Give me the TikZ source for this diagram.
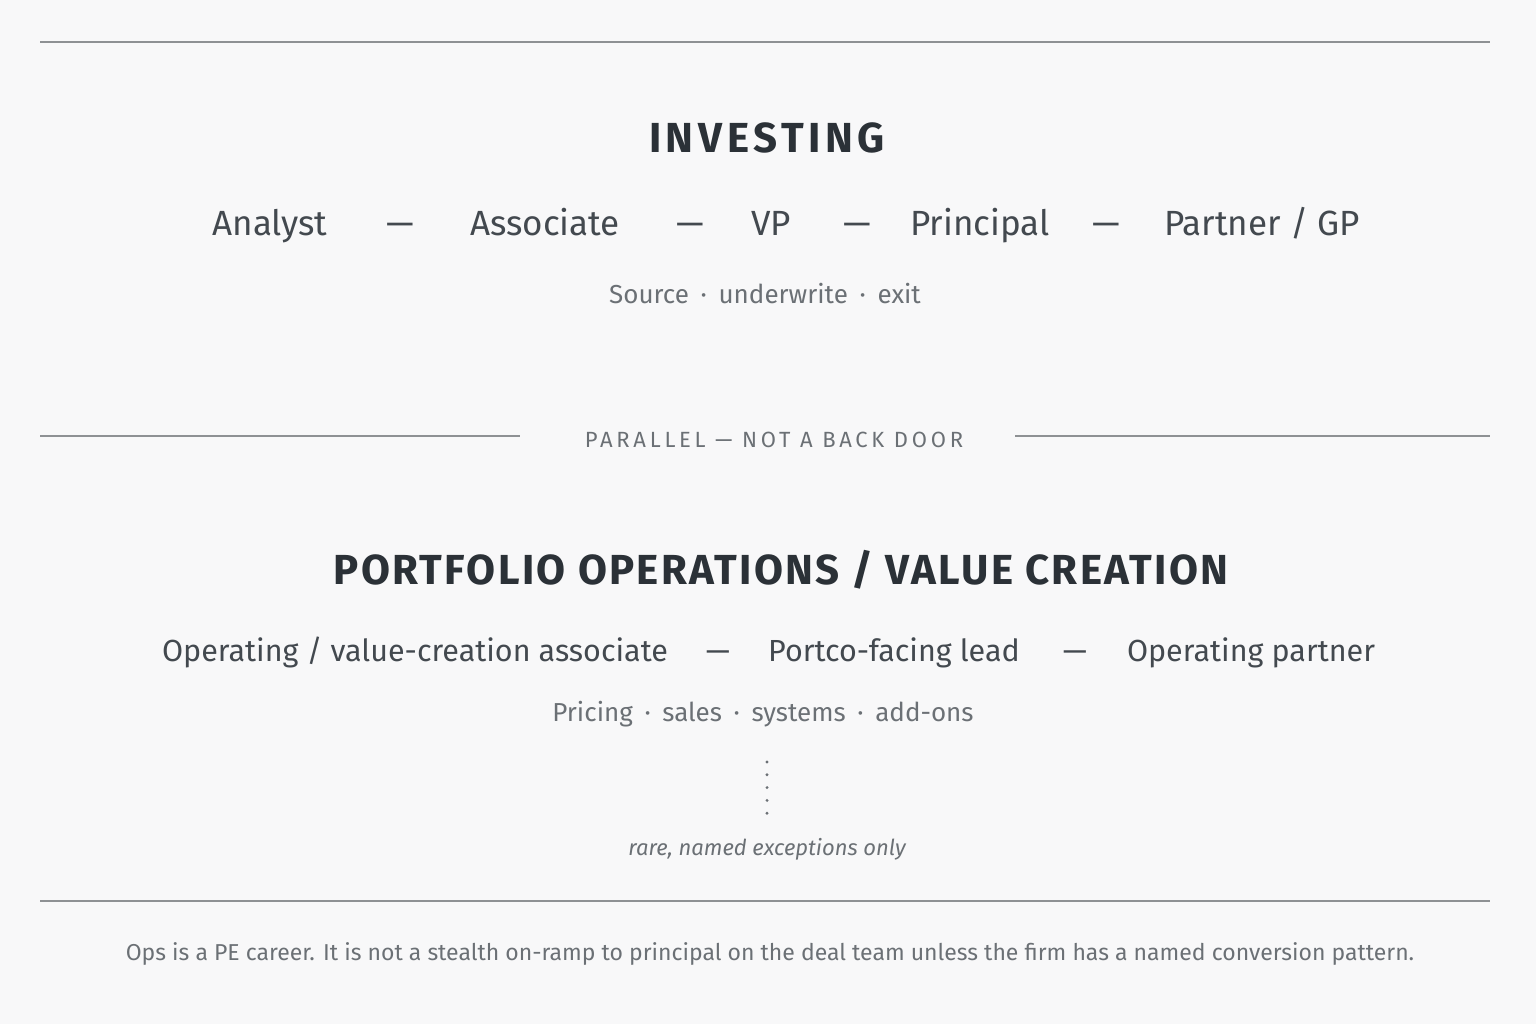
\documentclass[tikz,border=0pt]{standalone}
\usepackage{fontspec}
\setmainfont{Fira Sans}
\usetikzlibrary{positioning}

\definecolor{paper}{HTML}{F8F8F9}
\definecolor{ink}{HTML}{2B3137}
\definecolor{rolegray}{HTML}{43494F}
\definecolor{subgray}{HTML}{6B7075}
\definecolor{rulegray}{HTML}{8E9194}

\newcommand{\sdot}{\hspace{0.45em}·\hspace{0.45em}}

\begin{document}
\begin{tikzpicture}[x=1pt, y=-1pt,
    every node/.style={anchor=base, inner sep=0pt},
    heading/.style={font=\fontsize{42}{48}\selectfont\bfseries\addfontfeatures{LetterSpace=5.5}, text=ink},
    wideheading/.style={font=\fontsize{42}{48}\selectfont\bfseries\addfontfeatures{LetterSpace=11}, text=ink},
    role/.style={font=\fontsize{35}{42}\selectfont, text=rolegray},
    oprole/.style={font=\fontsize{30.5}{36}\selectfont, text=rolegray},
    tasks/.style={font=\fontsize{26}{30}\selectfont, text=subgray},
    divider/.style={font=\fontsize{22}{26}\selectfont\addfontfeatures{LetterSpace=17}, text=subgray},
    note/.style={font=\fontsize{22}{26}\selectfont\itshape, text=subgray},
    footer/.style={font=\fontsize{23}{27}\selectfont, text=subgray},
    rule/.style={draw=rulegray, line width=1.1pt},
    dotline/.style={draw=subgray, line width=3.2pt, line cap=round, dash pattern=on 0pt off 12.8pt}
]

    % Fond
    \fill[paper] (0,0) rectangle (1536,1024);
    \useasboundingbox (0,0) rectangle (1536,1024);

    % Filets
    \draw[rule] (40,42) -- (1490,42);
    \draw[rule] (40,436) -- (520,436);
    \draw[rule] (1015,436) -- (1490,436);
    \draw[rule] (40,901) -- (1490,901);

    % Investing
    \node[wideheading] (invest) at (767,153) {INVESTING};
    \node[role] (analyst) at (270,236) {Analyst};
    \node[role] (d1) at (400,236) {—};
    \node[role] (associate) at (545,236) {Associate};
    \node[role] (d2) at (690,236) {—};
    \node[role] (vp) at (771,236) {VP};
    \node[role] (d3) at (857,236) {—};
    \node[role] (principal) at (980,236) {Principal};
    \node[role] (d4) at (1106,236) {—};
    \node[role] (partner) at (1262,236) {Partner / GP};
    \node[tasks] (dealwork) at (765,303) {Source\sdot underwrite\sdot exit};

    % Separateur
    \node[divider] (parallel) at (774,447) {PARALLEL — NOT A BACK DOOR};

    % Operations
    \node[heading] (ops) at (781,584) {PORTFOLIO OPERATIONS / VALUE CREATION};
    \node[oprole] (opsassoc) at (415,661) {Operating / value-creation associate};
    \node[oprole] (d5) at (718,661) {—};
    \node[oprole] (portco) at (894,661) {Portco-facing lead};
    \node[oprole] (d6) at (1075,661) {—};
    \node[oprole] (oppartner) at (1251,661) {Operating partner};
    \node[tasks] (opswork) at (763,721) {Pricing\sdot sales\sdot systems\sdot add-ons};

    % Passage rare
    \coordinate (dtop) at (767,762);
    \coordinate (dbot) at (767,814);
    \draw[dotline] (dtop) -- (dbot);
    \node[note] (rare) at (767,855) {rare, named exceptions only};

    % Pied
    \node[footer] (moral) at (770,960) {Ops is a PE career. It is not a stealth on-ramp to principal on the deal team unless the firm has a named conversion pattern.};

\end{tikzpicture}
\end{document}
